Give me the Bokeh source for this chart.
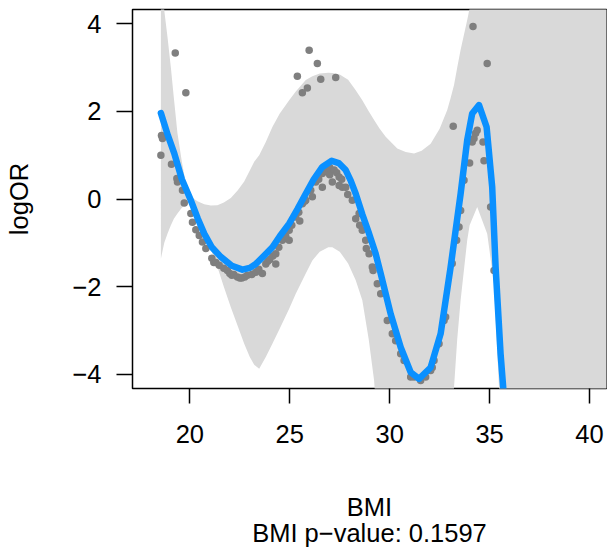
from bokeh.plotting import figure
from bokeh.models import Range1d, FixedTicker, LinearAxis
from bokeh.embed import file_html
from bokeh.resources import INLINE

# ---- data ----
curve_x = [18.55, 18.9, 19.22, 19.6, 20.05, 20.4, 20.72, 21.1, 21.55, 22.1, 22.63, 23.0, 23.3, 23.7,
           24.13, 24.5, 24.97, 25.4, 25.8, 26.2, 26.63, 27.1, 27.45, 27.8, 28.05, 28.3, 28.63, 28.97,
           29.3, 29.55, 29.8, 30.05, 30.55, 31.05, 31.47, 32.05, 32.55, 33.05, 33.55, 33.88, 34.13,
           34.47, 34.85, 35.13, 35.3, 35.55, 35.68, 35.8]
curve_y = [1.96, 1.45, 1.04, 0.45, -0.03, -0.45, -0.79, -1.1, -1.32, -1.52, -1.61, -1.57, -1.48, -1.3,
           -1.10, -0.85, -0.56, -0.22, 0.12, 0.45, 0.73, 0.87, 0.82, 0.66, 0.42, 0.12, -0.35, -0.79,
           -1.25, -1.70, -2.16, -2.62, -3.38, -3.95, -4.10, -3.84, -3.07, -1.55, 0.12, 1.34, 1.95,
           2.14, 1.64, 0.27, -1.55, -3.53, -4.29, -5.5]

band_x = [18.55, 18.72, 18.88, 19.05, 19.2, 19.38, 19.6, 19.8, 20.05, 20.38, 20.72, 21.05, 21.38, 21.7,
          22.05, 22.4, 22.72, 23.0, 23.22, 23.47, 23.8, 24.13, 24.5, 24.97, 25.3, 25.8, 26.13, 26.5,
          26.93, 27.13, 27.5, 27.92, 28.3, 28.63, 28.95, 29.22, 29.5, 29.8, 30.38, 30.8, 31.22, 31.6,
          32.05, 32.5, 32.88, 33.05, 33.22, 33.38, 33.55, 33.88, 34.0, 34.38, 34.88, 35.22, 35.47,
          35.6, 41.0]
band_upper = [6.0, 4.3, 3.7, 3.0, 2.3, 1.5, 0.85, 0.35, 0.05, -0.05, -0.12, -0.15, -0.14, -0.08,
              0.02, 0.2, 0.4, 0.65, 0.85, 1.0, 1.3, 1.64, 1.95, 2.25, 2.45, 2.71, 2.8, 2.86,
              2.88, 2.87, 2.84, 2.72, 2.48, 2.25, 2.0, 1.8, 1.6, 1.42, 1.15, 1.07, 1.04, 1.1,
              1.26, 1.6, 2.03, 2.3, 2.6, 3.0, 3.4, 4.08, 4.35, 7.0, 9.0, 10.0, 10.0,
              10.0, 10.0]
band_lower = [-1.36, -1.0, -0.79, -0.6, -0.45, -0.33, -0.2, -0.12, -0.07, -0.35, -0.79, -1.15, -1.55, -2.0,
              -2.47, -2.9, -3.3, -3.6, -3.78, -3.87, -3.6, -3.3, -2.95, -2.5, -2.16, -1.7, -1.4, -1.2,
              -1.1, -1.1, -1.2, -1.47, -1.85, -2.31, -3.2, -4.14, -6.0, -8.0, -8.0, -8.0, -8.0, -8.0,
              -8.0, -8.0, -8.0, -6.0, -4.29, -3.2, -2.31, -0.94, -0.6, -0.18, -0.79, -1.93, -4.29,
              -6.0, -10.0]

pt_x = [19.27, 19.80, 25.97, 26.38, 25.38, 26.55, 27.30, 25.88, 25.63, 34.17, 34.88, 33.18,
        18.58, 18.63, 18.55, 19.08, 19.35, 19.38, 19.63, 19.72, 20.05, 20.13, 20.30, 20.47, 20.63,
        20.80, 21.10, 21.20, 21.30, 21.47, 21.70, 21.88, 22.00, 22.10, 22.20, 22.38, 22.50, 22.60,
        22.75, 22.88, 23.10, 23.30, 23.45,
        23.63, 23.80, 23.90, 24.00, 24.15, 24.30, 24.30, 24.45, 24.63, 24.80, 24.97, 24.97, 25.10,
        25.30, 25.45, 25.50, 25.63, 25.75, 25.80, 25.97, 26.05, 26.13, 26.30, 26.45, 26.63, 26.63,
        26.75, 26.88, 26.95, 27.00, 27.00, 27.13, 27.22, 27.35, 27.47, 27.47, 27.60,
        27.63, 27.80, 27.90, 28.13, 28.30, 28.47, 28.50, 28.63, 28.80, 28.83, 28.97, 29.13, 29.17,
        29.38, 29.55, 29.88, 30.13, 30.30, 30.55, 30.72, 31.05, 31.22, 31.55, 31.80, 32.05, 32.13,
        32.22, 32.47, 32.72, 32.80, 33.13, 33.35, 33.47, 33.55, 33.72, 34.00, 34.13, 34.22, 34.30,
        34.38, 34.67, 34.72, 35.05, 35.22]
pt_y = [3.33, 2.42, 3.39, 3.09, 2.80, 2.73, 2.77, 2.53, 2.42, 3.93, 3.09, 1.66,
        1.45, 1.38, 1.00, 0.79, 0.47, 0.39, 0.20, -0.09, -0.33, -0.53, -0.70, -0.83, -0.98,
        -1.13, -1.35, -1.45, -1.45, -1.51, -1.58, -1.63, -1.70, -1.74, -1.72, -1.78, -1.80, -1.80,
        -1.78, -1.74, -1.72, -1.67, -1.60,
        -1.70, -1.48, -1.42, -1.38, -1.30, -1.25, -1.48, -1.10, -0.94, -0.85, -0.71, -0.94, -0.60,
        -0.41, -0.30, -0.50, -0.11, -0.05, -0.03, 0.20, 0.20, 0.05, 0.39, 0.45, 0.58, 0.27,
        0.65, 0.69, 0.60, 0.72, 0.55, 0.39, 0.66, 0.60, 0.50, 0.31, 0.45,
        0.27, 0.27, 0.10, -0.03, -0.45, -0.33, -0.60, -0.71, -0.94, -1.13, -1.25, -1.55, -1.63,
        -1.93, -2.16, -2.77, -3.07, -3.23, -3.53, -3.68, -4.06, -4.06, -4.14, -4.06, -3.91, -3.84,
        -3.68, -3.30, -2.77, -2.69, -1.47, -0.94, -0.64, -0.26, 0.43, 0.82, 1.30, 1.38, 1.50,
        1.57, 1.30, 0.87, -0.18, -1.63]

x_ticks = [20, 25, 30, 35, 40]
y_ticks = [-4, -2, 0, 2, 4]
x_label = "BMI"
sub_label = "BMI p\u2212value: 0.1597"
y_label = "logOR"

FONT = "Liberation Sans"
FS = "25.5px"

p = figure(width=607, height=550, output_backend="svg", toolbar_location=None,
           x_range=Range1d(17.13, 40.85), y_range=Range1d(-4.32, 4.32),
           min_border_left=132, min_border_right=1, min_border_top=9, min_border_bottom=162)
p.grid.visible = False
p.outline_line_color = "black"
p.outline_line_width = 1.5
p.background_fill_color = "white"
p.border_fill_color = "white"

p.varea(x=band_x, y1=band_lower, y2=band_upper, fill_color="#D9D9D9")
p.scatter(pt_x, pt_y, size=7.5, fill_color="#7F7F7F", line_color=None)
p.line(curve_x, curve_y, line_color="#0A90FF", line_width=6.5, line_join="round", line_cap="round")

sub_axis = LinearAxis(ticker=FixedTicker(ticks=[]), axis_label=sub_label)
p.add_layout(sub_axis, "below")

for ax in (p.xaxis[0], p.yaxis[0], sub_axis):
    ax.axis_line_color = None
    ax.major_tick_in = 0
    ax.minor_tick_line_color = None
    ax.major_tick_line_color = "black"
    ax.major_tick_line_width = 1.5
    ax.major_label_text_font = FONT
    ax.major_label_text_font_size = FS
    ax.major_label_text_color = "black"
    ax.axis_label_text_font = FONT
    ax.axis_label_text_font_size = FS
    ax.axis_label_text_font_style = "normal"
    ax.axis_label_text_color = "black"

sub_axis.major_tick_line_color = None
sub_axis.major_tick_out = 0
sub_axis.major_label_standoff = 0
sub_axis.axis_label_standoff = -5

p.xaxis[0].ticker = FixedTicker(ticks=x_ticks)
p.yaxis.ticker = FixedTicker(ticks=y_ticks)
p.yaxis.major_label_overrides = {t: (str(t).replace("-", "\u2212")) for t in y_ticks}
p.xaxis[0].major_tick_out = 15
p.yaxis.major_tick_out = 16
p.xaxis[0].major_label_standoff = 21
p.yaxis.major_label_standoff = 15
p.yaxis.major_label_orientation = "horizontal"
p.xaxis[0].axis_label = x_label
p.yaxis.axis_label = y_label
p.xaxis[0].axis_label_standoff = 47
p.yaxis.axis_label_standoff = 36

open("out.html", "w").write(file_html(p, INLINE))
